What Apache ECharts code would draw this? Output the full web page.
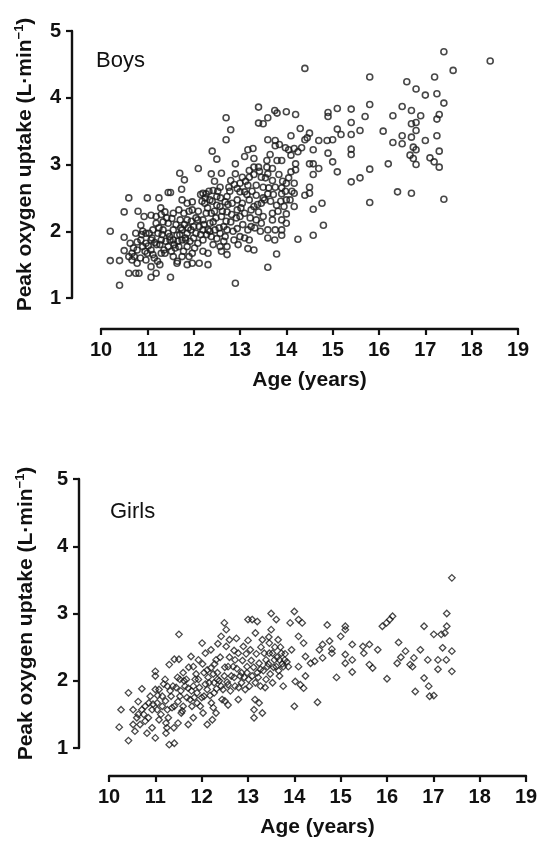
<!DOCTYPE html>
<html>
<head>
<meta charset="utf-8">
<script src="https://cdn.jsdelivr.net/npm/echarts@6/dist/echarts.min.js"></script>
<style>
  html, body { margin: 0; padding: 0; background: #fff; }
  #chart { width: 541px; height: 841px; }
</style>
</head>
<body>
<div id="chart"></div>
<script>
// age (years), peak VO2 (L/min)
const boys = [
  [10.2,2.0],[10.2,1.56],[10.4,1.56],[10.4,1.19],[10.6,2.5],[10.5,2.29],[10.5,1.91],[10.5,1.71],[10.6,1.37],[10.8,2.3],
  [11.0,2.5],[11.08,1.31],[11.5,1.31],[11.25,2.5],[11.45,2.58],[11.5,2.58],[11.7,2.87],[11.8,2.77],[12.1,2.94],[11.74,2.63],
  [12.4,3.2],[12.5,3.08],[12.7,3.7],[12.8,3.52],[12.7,3.37],[12.9,3.01],[12.9,1.22],[13.17,3.22],[13.4,3.86],[13.4,3.62],
  [13.5,3.61],[13.6,3.7],[13.6,3.37],[13.75,3.81],[13.8,3.77],[14.0,3.79],[14.2,3.75],[14.3,3.54],[14.4,4.44],[14.4,3.37],
  [14.5,3.47],[14.1,3.43],[13.76,3.36],[13.76,3.28],[13.98,3.25],[14.17,3.24],[14.58,3.22],[14.7,3.36],[14.88,3.36],[15.0,3.37],
  [14.9,3.78],[14.9,3.72],[15.1,3.84],[15.1,3.53],[15.18,3.45],[15.4,3.83],[15.4,3.63],[15.4,3.45],[15.59,3.51],[15.7,3.72],
  [15.8,3.9],[15.8,4.31],[15.4,3.23],[15.4,3.15],[14.9,3.17],[15.0,3.04],[15.1,2.89],[15.4,2.74],[15.59,2.8],[15.8,2.93],
  [15.8,2.43],[16.09,3.5],[16.3,3.73],[16.3,3.33],[16.2,3.01],[16.4,2.59],[16.5,3.87],[16.5,3.43],[16.5,3.31],[16.6,4.24],
  [16.7,3.81],[16.7,2.57],[16.7,3.61],[16.7,3.41],[16.8,4.13],[16.9,3.73],[16.8,3.51],[16.8,3.63],[16.74,3.26],[16.8,3.22],
  [16.67,3.14],[16.74,3.09],[16.8,3.0],[17.0,4.04],[17.0,3.36],[17.1,3.1],[17.19,3.04],[17.3,2.96],[17.2,4.31],[17.25,4.06],
  [17.4,4.69],[17.6,4.41],[17.4,3.92],[17.3,3.75],[17.25,3.68],[17.25,3.43],[17.3,3.2],[17.4,2.48],[18.4,4.55],
  [14.25,1.88],[14.58,1.94],[14.8,2.09],[14.58,2.33],[14.77,2.42],[13.6,1.46],[13.79,1.66],[13.75,1.87],[14.17,2.37],[14.17,2.57],
  [14.4,2.54],[14.5,2.57],[14.5,2.66],[14.58,2.85],[14.58,3.01],[14.5,3.01],[14.7,2.94],[14.17,2.72],[14.2,2.92],[14.2,3.01],
  [14.1,2.89],[14.1,3.14],[14.25,3.19],[14.0,2.72],[14.0,2.26],[14.0,2.12],[13.9,2.02],[13.9,1.94],[13.76,2.02],[13.7,2.17],
  [13.6,2.02],[13.6,1.9],[13.7,2.27],[13.79,2.39],[13.9,2.56],[13.9,2.65],[13.76,2.66],[13.7,2.76],[13.6,2.86],[13.7,2.94],
  [13.8,3.06],[13.9,3.06],[13.58,3.06],[13.58,2.96],[13.4,2.96],[13.3,3.09],[13.3,2.96],[13.2,2.81],[13.35,2.69],[13.17,2.69],
  [13.1,2.59],[13.2,2.47],[13.3,2.37],[13.4,2.29],[13.5,2.22],[13.46,2.12],[13.35,2.17],[13.24,2.07],[13.17,2.02],[13.1,1.9],
  [13.2,1.87],[13.3,1.72],[13.0,1.92],[12.94,2.04],[13.0,2.22],[12.94,2.32],[13.05,2.42],[12.94,2.64],[13.0,2.72],[12.9,2.86],
  [12.8,2.76],[12.76,2.66],[12.72,2.52],[12.83,2.42],[12.72,2.29],[12.6,2.22],[12.8,2.14],[12.72,2.02],[12.68,1.92],[12.72,1.77],
  [12.72,1.65],[12.57,1.77],[12.5,1.89],[12.46,2.02],[12.42,2.14],[12.38,2.27],[12.5,2.39],[12.5,2.52],[12.42,2.61],[12.57,2.66],
  [12.38,2.86],[12.6,2.87],[12.27,2.56],[12.24,2.42],[12.27,2.27],[12.2,2.17],[12.31,2.02],[12.2,1.87],[12.31,1.67],[12.31,1.5],
  [12.09,1.82],[12.05,1.97],[12.0,2.07],[12.09,2.17],[11.97,2.32],[11.97,2.44],[11.86,2.42],[11.86,2.17],[11.86,1.97],[11.86,1.77],
  [11.97,1.67],[11.97,1.52],[11.86,1.5],[11.75,1.62],[11.75,1.87],[11.75,2.02],[11.71,2.17],[11.68,2.32],[11.56,2.27],[11.56,2.02],
  [11.56,1.87],[11.56,1.62],[11.45,1.77],[11.45,1.97],[11.45,2.12],[11.38,2.29],[11.34,2.02],[11.3,1.87],[11.3,1.67],[11.27,1.5],
  [11.19,1.37],[11.23,1.97],[11.19,2.12],[11.19,2.22],[11.08,2.24],[11.12,2.02],[11.08,1.87],[11.08,1.72],[11.08,1.47],[10.97,1.57],
  [10.97,1.82],[10.97,1.97],[10.86,2.09],[10.86,1.87],[10.78,1.72],[10.78,1.52],[10.75,1.37],[10.67,1.67],[10.67,1.57],[10.6,1.62],
  [10.78,1.84],[10.9,1.77],[10.82,1.37],
  [13.1,3.12],[13.28,3.24],[13.0,2.59],[13.53,2.47],[13.6,2.56],[14.0,2.47],[13.95,2.37],[14.08,2.47],[13.9,2.17],[13.17,1.74],
  [12.87,1.87],[12.12,1.52],[11.75,2.47],[11.29,2.35],[10.93,2.22],
  [11.0,1.67],[11.15,1.6],[11.38,1.67],[11.49,1.87],[11.64,1.94],[11.68,1.77],[11.83,1.87],[11.94,2.02],[12.12,2.07],[12.2,2.02],
  [12.35,2.12],[12.38,1.92],[12.57,1.97],[12.65,2.07],[12.57,2.37],[12.68,2.44],[12.35,2.47],[12.2,2.57],[11.34,2.14],[11.27,1.8],
  [11.53,2.19],[11.79,2.27],[11.9,1.62],[11.64,1.52],[11.04,1.97],[10.75,1.97],[10.63,1.82],[12.94,2.47],[13.1,2.27],[13.24,2.32],
  [13.46,2.42],[13.35,2.54],[13.5,2.66],[13.46,2.81],[13.2,2.91],[13.05,2.81],
  [13.85,3.3],[14.05,3.22],[14.33,3.25],[14.45,3.4],[13.65,3.15],
  [10.7,1.75],[10.72,1.62],[10.85,1.6],[10.88,1.95],[10.95,1.7],[11.02,1.78],[11.1,1.9],[11.12,1.65],[11.16,1.83],[11.2,1.8],
  [11.22,1.55],[11.25,2.05],[11.32,1.95],[11.36,1.72],[11.4,1.85],[11.42,2.2],[11.48,1.92],[11.52,1.7],[11.58,1.8],[11.6,1.75],
  [11.62,2.1],[11.66,1.85],[11.7,1.95],[11.72,2.05],[11.78,1.7],[11.8,2.1],[11.82,1.9],[11.88,2.05],[11.92,1.85],[11.95,2.15],
  [12.0,1.9],[12.02,1.75],[12.05,2.2],[12.1,2.3],[12.15,1.95],[12.18,2.45],[12.22,2.1],[12.25,2.5],[12.28,1.95],[12.3,2.35],
  [12.33,2.6],[12.35,2.0],[12.4,2.45],[12.42,1.8],[12.45,2.3],[12.48,2.2],[12.52,2.6],[12.55,2.05],[12.58,2.5],[12.62,2.3],
  [12.65,1.85],[12.7,2.15],[12.74,2.4],[12.78,2.6],[12.82,2.25],[12.85,2.0],[12.88,2.7],[12.92,2.2],[12.96,1.8],[13.02,2.35],
  [13.06,2.1],[13.12,2.75],[13.15,2.55],[13.22,2.2],[13.26,2.6],[13.3,2.85],[13.32,2.05],[13.38,2.4],[13.42,2.9],[13.44,2.0],
  [13.5,2.5],[13.55,2.8],[13.62,2.65],[13.66,2.45],[13.72,2.55],[13.82,2.3],[13.84,2.85],[13.88,2.45],[13.92,2.75],[13.98,2.6],
  [14.05,2.8],[14.12,2.6],[12.6,1.7],[12.2,1.7],[11.65,1.55],[12.45,2.75],[12.15,2.55],[11.9,2.3],[11.3,2.25],[10.9,2.0]
];

const girls = [
  [10.22,1.31],[10.26,1.57],[10.42,1.82],[10.42,1.11],[10.52,1.57],[10.52,1.35],[10.56,1.25],[10.63,1.69],[10.63,1.5],[10.67,1.35],
  [10.71,1.88],[10.78,1.62],[10.78,1.4],[10.82,1.22],[10.89,1.77],[10.93,1.57],[10.93,1.3],[11.0,2.14],[11.0,2.07],[11.0,1.87],
  [11.0,1.15],[11.04,1.67],[11.04,1.57],[11.08,1.42],[11.15,1.77],[11.21,2.02],[11.23,1.37],[11.23,1.22],[11.26,1.57],[11.3,2.24],
  [11.3,1.05],[11.41,1.07],[11.38,1.92],[11.41,2.32],[11.51,2.32],[11.51,2.69],[11.49,1.69],[11.49,1.37],[11.56,1.52],[11.6,2.12],
  [11.64,1.92],[11.71,1.35],[11.75,1.72],[11.77,2.36],[11.82,2.21],[11.82,1.45],[11.86,2.02],[11.9,1.82],[11.93,2.31],[11.97,1.62],
  [12.01,2.56],[12.03,1.52],[12.08,2.41],[12.12,2.16],[12.12,1.35],[12.16,1.97],[12.2,2.46],[12.21,1.67],[12.23,1.42],[12.27,1.82],
  [12.31,2.31],[12.31,1.52],[12.34,2.02],[12.42,2.66],[12.46,1.87],[12.49,2.86],[12.53,2.76],[12.53,2.51],[12.57,2.21],[12.57,1.64],
  [12.6,2.61],[12.64,2.07],[12.72,1.92],[12.75,2.63],[12.79,2.41],[12.79,1.72],[12.86,2.12],[12.9,2.51],[12.94,1.87],[13.0,2.91],
  [13.01,2.02],[13.05,2.46],[13.09,2.91],[13.13,1.45],[13.13,1.57],[13.15,1.72],[13.16,2.71],[13.2,2.88],[13.2,2.12],[13.24,2.26],
  [13.24,1.67],[13.27,1.92],[13.31,2.61],[13.31,1.52],[13.35,2.41],[13.39,2.02],[13.42,2.21],[13.46,2.56],[13.5,3.0],[13.5,2.76],
  [13.53,2.41],[13.53,1.97],[13.61,2.91],[13.61,2.21],[13.65,2.61],[13.68,2.07],[13.72,2.41],[13.76,1.92],[13.79,2.31],[13.87,2.21],
  [13.91,2.86],[13.94,2.46],[14.0,3.03],[14.0,1.62],[14.02,1.99],[14.09,2.91],[14.09,2.66],[14.09,2.21],[14.13,1.94],[14.17,2.86],
  [14.2,2.56],[14.2,1.89],[14.24,2.07],[14.24,2.36],[14.35,2.26],[14.44,2.29],[14.5,1.68],[14.54,2.46],[14.61,2.54],[14.61,2.34],
  [14.71,2.83],[14.76,2.59],[14.81,2.41],[14.81,2.47],[14.91,2.05],[15.0,2.66],[15.1,2.81],[15.1,2.76],[15.1,2.39],[15.1,2.26],
  [15.25,2.54],[15.25,2.31],[15.25,2.13],[15.48,2.51],[15.5,2.41],[15.62,2.54],[15.62,2.24],[15.69,2.19],[15.8,2.46],[15.9,2.81],
  [15.99,2.86],[16.06,2.91],[16.12,2.96],[16.0,2.03],[16.25,2.57],[16.22,2.26],[16.3,2.35],[16.4,2.44],[16.5,2.24],[16.55,2.21],
  [16.58,2.34],[16.61,1.84],[16.72,2.46],[16.8,2.81],[16.8,2.04],[16.88,2.31],[16.9,1.92],[16.92,1.77],[17.01,2.69],[17.01,1.78],
  [17.1,2.31],[17.1,2.17],[17.17,2.69],[17.2,2.49],[17.25,2.71],[17.28,2.31],[17.29,2.81],[17.29,3.0],[17.4,3.53],[17.4,2.44],
  [17.4,2.14],
  [11.93,2.02],[12.05,2.12],[12.2,2.19],[12.34,2.12],[12.42,1.92],[12.49,2.07],[12.57,1.94],[12.68,2.21],[12.72,2.31],[12.83,2.07],
  [12.86,1.97],[12.98,2.21],[12.98,2.12],[13.09,2.07],[13.16,1.97],[13.27,2.17],[13.39,2.31],[13.46,2.41],[13.57,2.31],[13.68,2.31],
  [13.76,2.21],[11.67,2.02],[11.71,1.89],[11.53,1.77],[11.41,1.62],[11.34,1.77],[11.6,1.62],[11.79,1.62],[11.9,1.67],[12.05,1.77],
  [12.12,1.87],[12.27,1.97],[11.82,1.92],[11.53,2.02],[11.26,1.92],[11.15,1.62],[11.08,1.87],[10.86,1.67],[10.71,1.57],
  [10.6,1.45],[10.75,1.5],[10.85,1.45],[10.95,1.65],[11.05,1.78],[11.12,1.5],[11.18,1.95],[11.22,1.7],[11.28,1.45],[11.32,1.85],
  [11.36,1.6],[11.45,1.9],[11.48,2.05],[11.55,1.85],[11.58,1.55],[11.62,2.0],[11.68,1.75],[11.72,2.2],[11.78,1.85],[11.84,1.75],
  [11.88,2.1],[11.95,1.9],[12.0,1.75],[12.02,2.25],[12.08,1.95],[12.14,2.05],[12.18,1.78],[12.25,2.1],[12.28,2.25],[12.32,1.88],
  [12.38,2.0],[12.4,2.35],[12.44,1.72],[12.5,2.2],[12.55,1.98],[12.6,2.35],[12.62,1.85],[12.7,2.05],[12.76,2.18],[12.8,1.9],
  [12.88,2.3],[12.92,2.05],[12.96,2.4],[13.03,1.92],[13.07,2.3],[13.12,2.2],[13.18,2.4],[13.22,2.05],[13.28,2.5],[13.33,2.15],
  [13.37,1.9],[13.44,2.25],[13.48,2.1],[13.55,2.2],[13.58,2.5],[13.63,2.35],[13.66,2.15],[13.7,2.5],[13.74,2.25],[13.8,2.4],
  [13.84,2.28],[12.25,1.6],[12.5,1.7],[11.4,1.3],[11.25,1.3],[12.7,2.45],[12.35,2.55],[13.0,2.6],[13.45,2.65]
];

const yTicks = [1, 2, 3, 4, 5];
const xTicks = [10, 11, 12, 13, 14, 15, 16, 17, 18, 19];

const chart = echarts.init(document.getElementById('chart'));

const fontFam = '"Liberation Sans", Arial, sans-serif';
const axisCommon = {
  axisLine: { lineStyle: { color: '#111', width: 2.4 } },
  axisTick: { length: 6, lineStyle: { color: '#111', width: 2.2 } },
  splitLine: { show: false },
  axisLabel: { color: '#111', fontSize: 20, fontWeight: 'bold', fontFamily: fontFam, margin: 11 }
};

const yName = 'Peak oxygen uptake (L·min{sup|−1})';
const nameStyle = {
  color: '#111', fontSize: 21, fontWeight: 'bold', fontFamily: fontFam,
  rich: {
    sup: { fontSize: 13, fontWeight: 'bold', fontFamily: fontFam, color: '#111', verticalAlign: 'top', padding: [0, 0, 11, 0] }
  }
};

function xAxisFor(i, offset) {
  return Object.assign({}, axisCommon, {
    type: 'value', gridIndex: i, min: xTicks[0], max: xTicks[xTicks.length - 1], interval: 1,
    offset: offset,
    name: 'Age (years)', nameLocation: 'middle', nameGap: 41,
    nameTextStyle: { color: '#111', fontSize: 21, fontWeight: 'bold', fontFamily: fontFam }
  });
}
function yAxisFor(i, offset, gap) {
  return Object.assign({}, axisCommon, {
    type: 'value', gridIndex: i, min: yTicks[0], max: yTicks[yTicks.length - 1], interval: 1,
    offset: offset,
    name: yName, nameLocation: 'middle', nameGap: gap, nameRotate: 90,
    nameTextStyle: nameStyle
  });
}

chart.setOption({
  animation: false,
  title: [
    { text: 'Boys', left: 96, top: 50, padding: 0,
      textStyle: { fontSize: 22, fontWeight: 'normal', color: '#111', fontFamily: fontFam } },
    { text: 'Girls', left: 110, top: 501, padding: 0,
      textStyle: { fontSize: 22, fontWeight: 'normal', color: '#111', fontFamily: fontFam } }
  ],
  grid: [
    { left: 101, right: 23, top: 31, height: 267 },
    { left: 109, right: 15, top: 479, height: 269 }
  ],
  xAxis: [xAxisFor(0, 31), xAxisFor(1, 28)],
  yAxis: [yAxisFor(0, 29, 35), yAxisFor(1, 30, 41)],
  series: [
    {
      name: 'Boys', type: 'scatter', xAxisIndex: 0, yAxisIndex: 0,
      data: boys, symbol: 'circle', symbolSize: 6,
      itemStyle: { color: 'rgba(0,0,0,0)', borderColor: '#1a1a1a', borderWidth: 1.6 }
    },
    {
      name: 'Girls', type: 'scatter', xAxisIndex: 1, yAxisIndex: 1,
      data: girls, symbol: 'diamond', symbolSize: 6.5,
      itemStyle: { color: 'rgba(0,0,0,0)', borderColor: '#1a1a1a', borderWidth: 1.3 }
    }
  ]
});
</script>
</body>
</html>
